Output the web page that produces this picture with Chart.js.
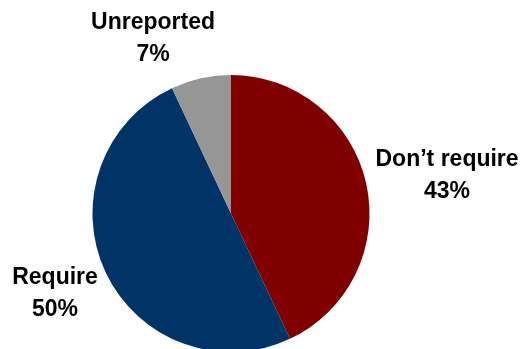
<!DOCTYPE html>
<html>
<head>
<meta charset="utf-8">
<script src="https://cdn.jsdelivr.net/npm/chart.js@4/dist/chart.umd.min.js"></script>
<style>
  html, body { margin: 0; padding: 0; background: #fff; overflow: hidden; }
  #wrap { position: absolute; left: 0; top: 0; width: 525px; height: 380px; }
</style>
</head>
<body>
<div id="wrap"><canvas id="myChart"></canvas></div>
<script>
const labels = ['Don\u2019t require', 'Require', 'Unreported'];
const shares = [43, 50, 7];
const sliceColors = ['#800000', '#003366', '#969696'];

// label placement: [distance in radii from centre, angle shift from slice middle in degrees]
const labelPlacement = [[1.586, 2.2], [1.391, 1.2], [1.39, -11.3]];

const pieLabels = {
    id: 'pieLabels',
    afterDatasetsDraw(chart) {
        const ctx = chart.ctx;
        const arcs = chart.getDatasetMeta(0).data;
        ctx.save();
        ctx.font = 'bold 23px "Liberation Sans", Arial, sans-serif';
        ctx.fillStyle = '#000';
        ctx.textAlign = 'center';
        ctx.textBaseline = 'alphabetic';
        arcs.forEach((arc, i) => {
            const p = arc.getProps(['x', 'y', 'startAngle', 'endAngle', 'outerRadius'], true);
            const mid = (p.startAngle + p.endAngle) / 2 + labelPlacement[i][1] * Math.PI / 180;
            const d = p.outerRadius * labelPlacement[i][0];
            const cx = p.x + Math.cos(mid) * d;
            const cy = p.y + Math.sin(mid) * d;
            ctx.fillText(labels[i], cx, cy - 16 + 8);
            ctx.fillText(shares[i] + '%', cx, cy + 16 + 8);
        });
        ctx.restore();
    }
};

const data = {
    labels: labels,
    datasets: [{
        data: shares,
        backgroundColor: sliceColors,
        borderWidth: 0,
        hoverOffset: 0,
        hoverBorderWidth: 0
    }]
};

const config = {
    type: 'pie',
    data: data,
    options: {
        responsive: true,
        maintainAspectRatio: false,
        animation: false,
        radius: 138.5,
        layout: { padding: { left: 0, right: 63, top: 47, bottom: 0 } },
        plugins: {
            legend: { display: false },
            tooltip: { enabled: false }
        }
    },
    plugins: [pieLabels]
};

const myChart = new Chart(document.getElementById('myChart'), config);
</script>
</body>
</html>
